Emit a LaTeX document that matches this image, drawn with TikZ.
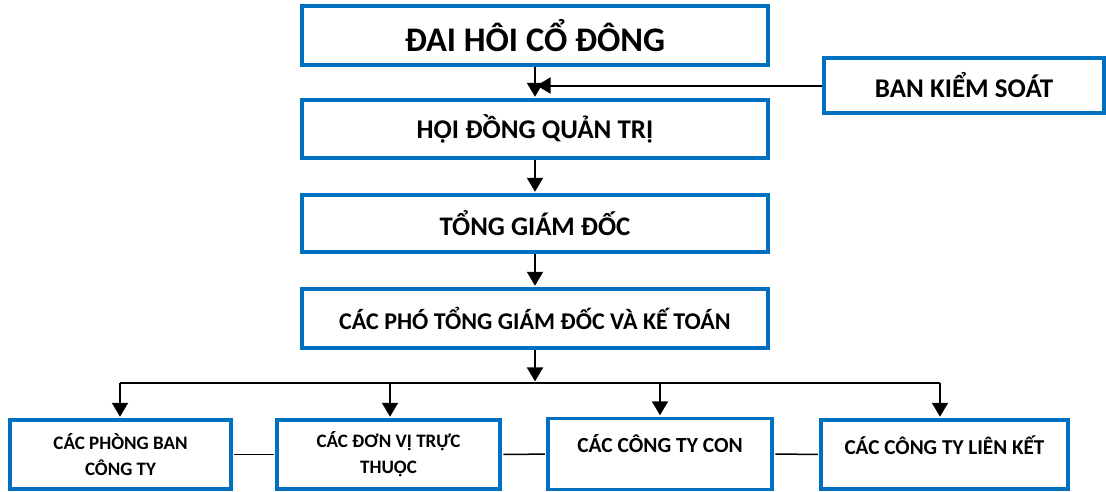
\documentclass[tikz,border=0pt]{standalone}
\usepackage{fontspec}
\setmainfont{Carlito}
\usetikzlibrary{arrows.meta}
\definecolor{khung}{RGB}{0,112,192}

\begin{document}
\begin{tikzpicture}[x=1pt,y=-1pt,
  hop/.style={draw=khung, line width=3.3pt, fill=white, align=center, inner sep=0pt},
  muiten/.style={-{Triangle[width=16pt,length=14pt]}, line width=2pt, shorten >=1.6pt},
  noi/.style={line width=1.5pt, shorten <=1.6pt, shorten >=1.6pt}]

  \useasboundingbox (0,0) rectangle (1106,491);

  % Cac cap lanh dao
  \node[hop, minimum width=466pt, minimum height=59pt, font=\bfseries\fontsize{34.5}{41}\selectfont] (daihoi) at (535,35.5) {ĐAI HÔI CỔ ĐÔNG};
  \node[hop, minimum width=280pt, minimum height=55pt, font=\bfseries\fontsize{27}{32}\selectfont] (kiemsoat) at (964,85.5) {BAN KIỂM SOÁT};
  \node[hop, minimum width=466pt, minimum height=58pt, font=\bfseries\fontsize{27}{32}\selectfont] (hoidong) at (535,129) {HỘI ĐỒNG QUẢN TRỊ};
  \node[hop, minimum width=466pt, minimum height=57pt, font=\bfseries\fontsize{26.8}{32}\selectfont] (tonggd) at (535,223.5) {TỔNG GIÁM ĐỐC};
  \node[hop, minimum width=466pt, minimum height=59pt, font=\bfseries\fontsize{24}{29}\selectfont] (photgd) at (535,318.5) {CÁC PHÓ TỔNG GIÁM ĐỐC VÀ KẾ TOÁN};

  % Cac don vi ben duoi
  \node[hop, minimum width=221pt, minimum height=69pt, font=\bfseries\fontsize{19}{26}\selectfont] (phongban) at (120.5,454.5) {CÁC PHÒNG BAN\\CÔNG TY};
  \node[hop, minimum width=223pt, minimum height=69pt, font=\bfseries\fontsize{19}{26}\selectfont] (donvi) at (388.5,454.5) {CÁC ĐƠN VỊ TRỰC\\THUỘC};
  \node[hop, minimum width=224pt, minimum height=71pt, font=\bfseries\fontsize{21.5}{26}\selectfont] (ctycon) at (660,454) {\raisebox{10pt}[\height][\depth]{CÁC CÔNG TY CON}};
  \node[hop, minimum width=247pt, minimum height=69pt, font=\bfseries\fontsize{21.2}{26}\selectfont] (lienket) at (944.5,454.5) {\raisebox{9pt}[\height][\depth]{CÁC CÔNG TY LIÊN KẾT}};

  % Duong phan nhanh
  \coordinate (re) at (535,383);
  \coordinate (reA) at (120,383);
  \coordinate (reB) at (390,383);
  \coordinate (reC) at (660,383);
  \coordinate (reD) at (940,383);

  % Mui ten
  \draw[muiten] (daihoi) -- (hoidong);
  \draw[muiten] (kiemsoat.west) -- (kiemsoat.west -| daihoi.south);
  \draw[muiten] (hoidong) -- (tonggd);
  \draw[muiten] (tonggd) -- (photgd);
  \draw[muiten] (photgd) -- (re);
  \draw[line width=2pt] (reA) -- (reD);
  \draw[muiten] (reA) -- (reA |- phongban.north);
  \draw[muiten] (reB) -- (reB |- donvi.north);
  \draw[muiten] (reC) -- (reC |- ctycon.north);
  \draw[muiten] (reD) -- (reD |- lienket.north);

  % Noi ngang
  \draw[noi] (phongban) -- (donvi);
  \draw[noi] (donvi) -- (ctycon);
  \draw[noi] (ctycon) -- (lienket);

\end{tikzpicture}
\end{document}
